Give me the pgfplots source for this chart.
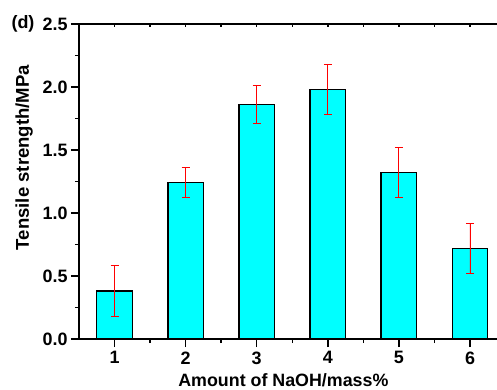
\documentclass[border=0pt]{standalone}
\usepackage{fontspec}
\setmainfont{Liberation Sans}
\usepackage{pgfplots}
\pgfplotsset{compat=1.18}
\definecolor{barcyan}{RGB}{0,255,255}
\begin{document}
\begin{tikzpicture}
\begin{axis}[
  name=main,
  scale only axis, width=418bp, height=315bp,
  xmin=0.5, xmax=6.38, ymin=0, ymax=2.5,
  axis y line*=left,
  axis line style={line width=1.8bp},
  xtick={1,2,3,4,5,6},
  minor x tick num=1,
  xtick pos=bottom,
  ytick={0,0.5,1,1.5,2,2.5},
  minor y tick num=1,
  ytick pos=left,
  tick align=outside,
  major tick length=8bp, minor tick length=4bp,
  tick style={line width=1.5bp, black},
  /pgf/number format/assume math mode=true,
  yticklabel style={/pgf/number format/.cd, fixed, fixed zerofill, precision=1},
  ticklabel style={font=\fontsize{18}{21}\selectfont\bfseries},
  xticklabel style={yshift=-1bp},
  xlabel={Amount of NaOH/mass\%},
  ylabel={Tensile strength/MPa},
  xlabel style={font=\fontsize{17.9}{21}\selectfont\bfseries, inner sep=0pt, at={(axis description cs:0.489,-0.151)}, anchor=base},
  ylabel style={font=\fontsize{18.6}{21}\selectfont\bfseries, at={(axis description cs:-0.131,0.576)}, anchor=center, rotate=0},
  ybar, bar width=0.5,
  clip=false,
]
\addplot+[ybar, fill=barcyan, draw=black, line width=1.4bp,
  error bars/.cd, y dir=both, y explicit,
  error bar style={red, line width=0.9bp},
  error mark options={red, line width=0.9bp, mark size=4bp, rotate=90}]
  coordinates {
  (1,0.38) +- (0,0.20)
  (2,1.24) +- (0,0.12)
  (3,1.86) +- (0,0.15)
  (4,1.98) +- (0,0.20)
  (5,1.32) +- (0,0.20)
  (6,0.72) +- (0,0.20)
};
\end{axis}
\begin{axis}[
  scale only axis, width=418bp, height=315bp,
  xmin=0.5, xmax=6.38, ymin=0, ymax=2.5,
  axis x line*=top, axis y line=none,
  axis line style={line width=1.8bp},
  xtick={1,2,3,4,5,6}, minor x tick num=1,
  xticklabels={}, tick align=inside,
  major tick length=3bp, minor tick length=3bp,
  tick style={line width=1.5bp, black},
]
\addplot[draw=none] coordinates {(1,0)};
\end{axis}
\node[font=\fontsize{18}{21}\selectfont\bfseries] at (-56bp,315bp) {(d)};
\pgfresetboundingbox
\path (-79bp,-51bp) rectangle (418bp,339bp);
\end{tikzpicture}
\end{document}
